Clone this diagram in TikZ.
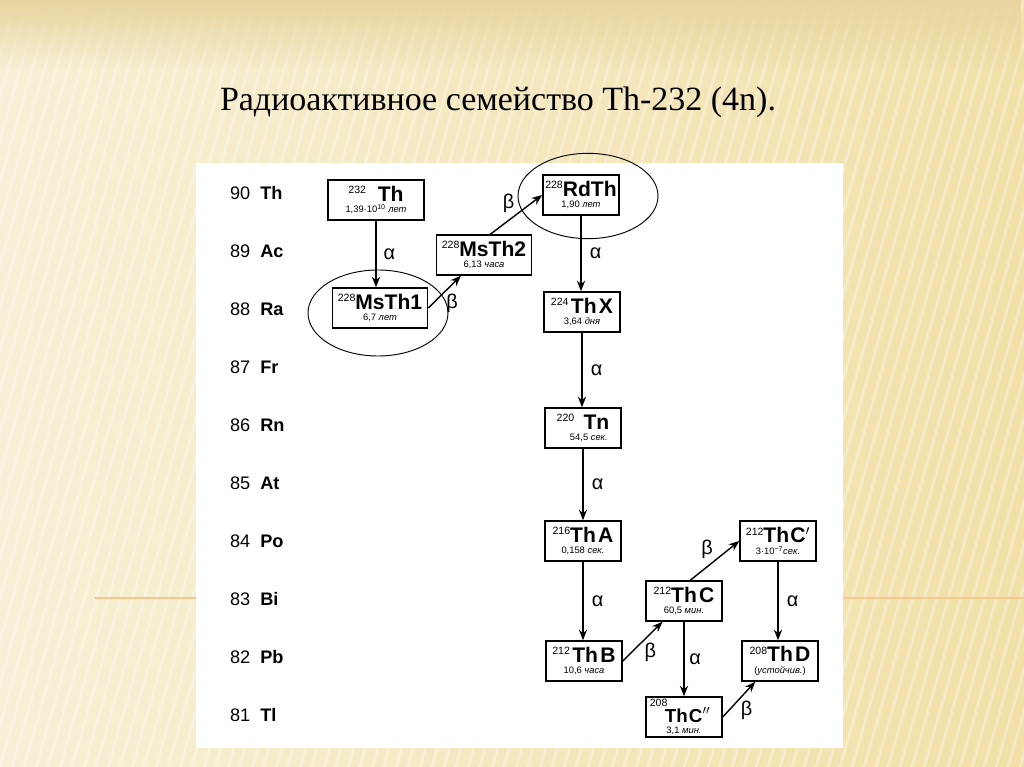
\documentclass[tikz,border=0pt]{standalone}
\usepackage{fontspec}
\setmainfont{Liberation Serif}
\setsansfont{Liberation Sans}
\usetikzlibrary{arrows.meta,fadings}

\newcommand{\nuclide}[3]{{\fontsize{9}{9}\selectfont\raisebox{6.5pt}{#1}}{\fontsize{18}{18}\selectfont\bfseries #2}\\[-2pt]{\fontsize{8}{9}\selectfont #3}}

\begin{document}
\begin{tikzpicture}[x=0.03cm, y=-0.03cm, >={Stealth[length=9pt,width=7pt]}, font=\sffamily,
  isobox/.style={draw, line width=1.3pt, fill=white, minimum width=2.28cm, minimum height=1.2cm, inner sep=2pt, align=center},
  decayarrow/.style={->, line width=1.2pt},
  decaylabel/.style={font=\sffamily\fontsize{17}{17}\selectfont, inner sep=1pt},
  elem/.style={anchor=west, font=\sffamily\fontsize{15.5}{15.5}\selectfont}]
  \definecolor{paper}{HTML}{F7F0D6}
  \definecolor{straw}{HTML}{F2E0A8}
  \definecolor{band}{HTML}{E8D49E}
  \definecolor{rule}{HTML}{F2C88C}
  \useasboundingbox (0,0) rectangle (1024,767);
  \shade[left color=paper, right color=straw] (0,0) rectangle (1024,767);
  \begin{scope}
    \clip (0,0) rectangle (1024,767);
    \foreach \s in {-240,-228,...,1024}
      \draw[white, opacity=0.3, line width=2.5pt] (\s,767) -- (\s+220,0);
  \end{scope}
  \fill[band, path fading=south] (0,0) rectangle (1024,70);
  \draw[rule, line width=1pt] (95,598) -- (1024,598);
  \fill[white] (196,163) rectangle (843,748);

  \node[font=\rmfamily\fontsize{29}{29}\selectfont] (title) at (498,102) {Радиоактивное семейство Th-232 (4n).};

  \foreach \z/\el [count=\i from 0] in {90/Th,89/Ac,88/Ra,87/Fr,86/Rn,85/At,84/Po,83/Bi,82/Pb,81/Tl}
    \node[elem] (z\z) at (226,{193+58*\i}) {\z\hspace{0.55em}\textbf{\el}};

  \node[isobox, minimum width=2.88cm] (th) at (376,200) {\nuclide{232\hspace{10pt}}{Th}{1,39·10\textsuperscript{10} \textit{лет}}};
  \node[isobox, minimum width=2.85cm] (msthA) at (380,308) {\nuclide{228}{MsTh1}{6,7 \textit{лет}}};
  \node[isobox, minimum width=2.85cm] (msthB) at (484,255) {\nuclide{228}{MsTh2}{6,13 \textit{часа}}};
  \node[isobox] (rdth) at (581,195) {\nuclide{228}{RdTh}{1,90 \textit{лет}}};
  \node[isobox] (thx) at (582,312) {\nuclide{224\hspace{2pt}}{Th\hspace{2pt}X}{3,64 \textit{дня}}};
  \node[isobox] (tn) at (583,428) {\nuclide{220\hspace{8pt}}{Tn}{\hspace{10pt}54,5 \textit{сек.}}};
  \node[isobox] (tha) at (583,541) {\nuclide{216}{Th\hspace{2pt}A}{0,158 \textit{сек.}}};
  \node[isobox] (thb) at (584,661) {\nuclide{212\hspace{2pt}}{Th\hspace{2pt}B}{10,6 \textit{часа}}};
  \node[isobox] (thc) at (684,601) {\nuclide{212}{Th\hspace{2pt}C}{60,5 \textit{мин.}}};
  \node[isobox] (thcp) at (778,541) {\nuclide{212}{Th\hspace{1pt}C$'$}{3·10\textsuperscript{−7}\textit{сек.}}};
  \node[isobox] (thd) at (780,661) {\nuclide{208}{Th\hspace{2pt}D}{(\textit{устойчив.})}};
  \node[isobox, inner ysep=1pt] (thcpp) at (684,717) {\makebox[2.05cm][l]{\fontsize{9}{9}\selectfont 208}\\[0pt]{\fontsize{16}{13}\selectfont\bfseries\hspace{6pt}Th\hspace{1pt}C$''$}\\[-2pt]{\fontsize{8}{8}\selectfont 3,1 \textit{мин.}}};

  \draw[line width=0.8pt] (msthA.center) ++(-2,5) ellipse [x radius=2.1cm, y radius=1.29cm];
  \draw[line width=0.8pt] (rdth.center) ++(7,1) ellipse [x radius=2.1cm, y radius=1.28cm];

  \draw[decayarrow] (th.south) -- (th.south |- msthA.north) node[midway, right=5pt, decaylabel] {α};
  \draw[decayarrow] (msthA.east) -- (msthB.222) node[midway, below right, decaylabel] {β};
  \draw[decayarrow] (msthB.73) -- (rdth.west) node[midway, above left, decaylabel] {β};
  \draw[decayarrow] (rdth.south) -- (rdth.south |- thx.north) node[midway, right=6pt, decaylabel] {α};
  \draw[decayarrow] (thx.south) -- (thx.south |- tn.north) node[midway, right=6pt, decaylabel] {α};
  \draw[decayarrow] (tn.south) -- (tn.south |- tha.north) node[midway, right=6pt, decaylabel] {α};
  \draw[decayarrow] (tha.south) -- (tha.south |- thb.north) node[midway, right=6pt, decaylabel] {α};
  \draw[decayarrow] (thb.east) -- (thc.224) node[midway, below right, decaylabel] {β};
  \draw[decayarrow] (thc.73) -- (thcp.west) node[midway, above left, decaylabel] {β};
  \draw[decayarrow] (thc.south) -- (thcpp.north) node[midway, right=3pt, decaylabel] {α};
  \draw[decayarrow] (thcp.south) -- (thcp.south |- thd.north) node[midway, right=6pt, decaylabel] {α};
  \draw[decayarrow] (thcpp.east) -- (thd.220) node[midway, below right, decaylabel] {β};
\end{tikzpicture}
\end{document}
